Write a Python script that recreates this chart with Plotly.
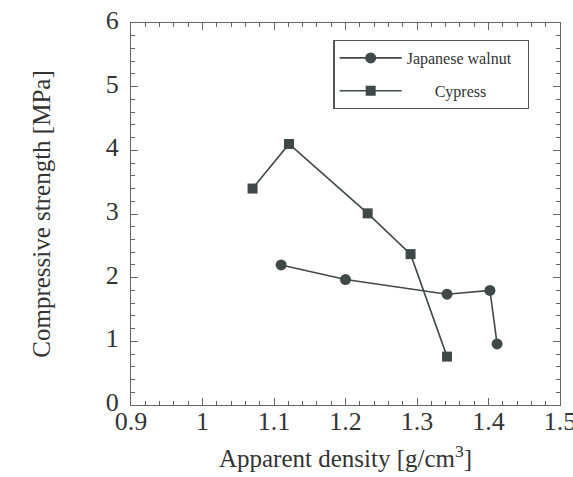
import plotly.graph_objects as go

walnut_x = [1.11, 1.20, 1.342, 1.402, 1.412]
walnut_y = [2.20, 1.97, 1.74, 1.80, 0.96]
cypress_x = [1.070, 1.121, 1.231, 1.291, 1.342]
cypress_y = [3.40, 4.10, 3.01, 2.37, 0.76]

x_ticks = [0.9, 1.0, 1.1, 1.2, 1.3, 1.4, 1.5]
x_labels = ["0.9", "1", "1.1", "1.2", "1.3", "1.4", "1.5"]
y_ticks = [0, 1, 2, 3, 4, 5, 6]

col = "#404848"
font = "Liberation Serif, Times New Roman, serif"

fig = go.Figure()
fig.add_trace(go.Scatter(x=walnut_x, y=walnut_y, mode="lines+markers", name="Japanese walnut\u00a0\u00a0\u00a0",
                         legendgroup="a",
                         line=dict(color=col, width=1.6),
                         marker=dict(symbol="circle", size=11, color=col)))
fig.add_trace(go.Scatter(x=cypress_x, y=cypress_y, mode="lines+markers", name="\u00a0\u00a0\u00a0\u00a0\u00a0\u00a0\u00a0Cypress",
                         legendgroup="b",
                         line=dict(color=col, width=1.6),
                         marker=dict(symbol="square", size=10, color=col)))

axis_common = dict(showgrid=False, zeroline=False, showline=True, linecolor="#666", linewidth=1.2,
                   mirror="allticks", ticks="inside", ticklen=7, tickcolor="#666",
                   automargin=False, ticklabeloverflow="allow",
                   tickfont=dict(family=font, size=26, color="#333"))

fig.update_xaxes(range=[0.9, 1.5], tickvals=x_ticks, ticktext=x_labels,
                 minor=dict(ticks="inside", ticklen=4, dtick=0.02, tickcolor="#666"),
                 title=dict(text="Apparent density [g/cm<sup>3</sup>]", font=dict(family=font, size=25, color="#333"), standoff=14),
                 ticklabelstandoff=-7, **axis_common)
fig.update_yaxes(range=[0, 6], tickvals=y_ticks,
                 minor=dict(ticks="inside", ticklen=4, dtick=0.2, tickcolor="#666"),
                 title=dict(text="Compressive strength [MPa]", font=dict(family=font, size=25, color="#333"), standoff=47),
                 ticklabelstandoff=6, ticklabelshift=-3, **axis_common)

fig.update_layout(width=573, height=477, margin=dict(l=131, r=13, t=23, b=72),
                  plot_bgcolor="white", paper_bgcolor="white",
                  legend=dict(x=0.472, y=0.956, xanchor="left", yanchor="top",
                              bordercolor="#555", borderwidth=1.2, bgcolor="white",
                              font=dict(family=font, size=16, color="#333"),
                              traceorder="grouped", tracegroupgap=9,
                              itemwidth=62),
                  showlegend=True)

fig.write_html("out.html", config={"displayModeBar": False},
               post_script="document.body.style.margin='0';document.body.style.padding='0';")
